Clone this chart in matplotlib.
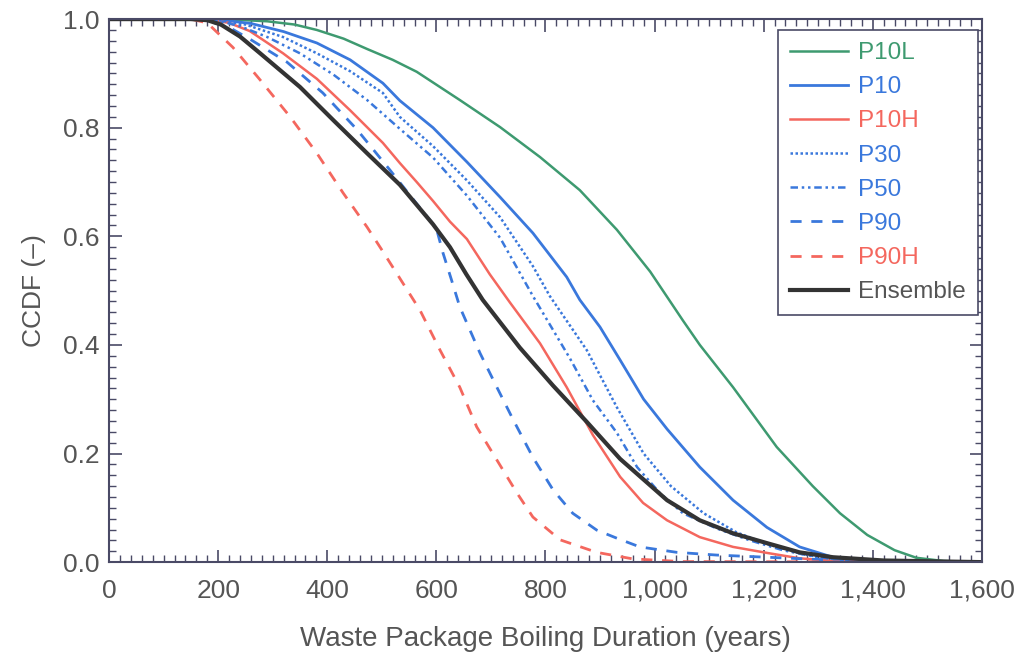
import matplotlib
matplotlib.use("Agg")
import matplotlib.pyplot as plt
from matplotlib.ticker import MultipleLocator, FuncFormatter

plt.rcParams['font.family'] = ['Liberation Sans', 'DejaVu Sans']

# --- data (years, CCDF) ---
p10l_x = [0, 180, 230, 290, 340, 381, 430, 473, 520, 564, 643, 717, 790, 863, 931, 992,
          1052, 1083, 1144, 1224, 1290, 1340, 1390, 1440, 1480, 1530, 1600]
p10l_y = [1, 1, 0.999, 0.996, 0.99, 0.98, 0.964, 0.945, 0.925, 0.903, 0.851, 0.801,
          0.746, 0.685, 0.612, 0.535, 0.445, 0.40, 0.322, 0.212, 0.14, 0.09, 0.05,
          0.022, 0.008, 0.002, 0]

p10_x = [0, 150, 200, 260, 320, 381, 442, 502, 533, 594, 656, 717, 777, 839, 863, 900,
         937, 980, 1023, 1083, 1144, 1206, 1266, 1327, 1400, 1600]
p10_y = [1, 1, 0.999, 0.992, 0.977, 0.956, 0.925, 0.882, 0.85, 0.80, 0.737, 0.672,
         0.606, 0.525, 0.483, 0.433, 0.372, 0.30, 0.245, 0.175, 0.114, 0.064, 0.028,
         0.009, 0.002, 0]

p10h_x = [0, 150, 190, 220, 258, 319, 381, 442, 502, 533, 564, 594, 625, 656, 698, 735,
          790, 839, 887, 937, 979, 1023, 1083, 1144, 1206, 1266, 1330, 1600]
p10h_y = [1, 1, 0.998, 0.993, 0.978, 0.937, 0.89, 0.832, 0.772, 0.735, 0.70, 0.665,
          0.627, 0.595, 0.53, 0.478, 0.403, 0.322, 0.234, 0.157, 0.109, 0.077, 0.046,
          0.028, 0.017, 0.007, 0.002, 0]

p30_x = [0, 150, 200, 250, 319, 381, 442, 502, 533, 594, 656, 717, 777, 808, 876, 931,
         980, 1030, 1090, 1150, 1210, 1270, 1330, 1400, 1600]
p30_y = [1, 1, 0.998, 0.99, 0.967, 0.937, 0.904, 0.864, 0.82, 0.766, 0.703, 0.635,
         0.545, 0.49, 0.39, 0.285, 0.2, 0.14, 0.09, 0.055, 0.032, 0.015, 0.005, 0.001, 0]

p50_x = [0, 150, 200, 240, 290, 350, 411, 473, 533, 594, 656, 717, 777, 845, 887, 931,
         968, 1010, 1052, 1114, 1175, 1235, 1298, 1360, 1600]
p50_y = [1, 1, 0.997, 0.987, 0.967, 0.937, 0.898, 0.851, 0.798, 0.745, 0.675, 0.597,
         0.49, 0.375, 0.298, 0.238, 0.175, 0.127, 0.09, 0.062, 0.04, 0.022, 0.009,
         0.003, 0]

p90_x = [0, 150, 180, 220, 260, 326, 392, 455, 515, 560, 600, 612, 628, 643, 680, 711,
         741, 777, 814, 850, 894, 931, 973, 1041, 1114, 1206, 1298, 1400, 1600]
p90_y = [1, 1, 0.997, 0.985, 0.962, 0.921, 0.864, 0.796, 0.722, 0.665, 0.615, 0.57,
         0.519, 0.47, 0.385, 0.322, 0.262, 0.193, 0.133, 0.09, 0.059, 0.044, 0.028,
         0.018, 0.013, 0.009, 0.005, 0.002, 0]

p90h_x = [0, 150, 180, 227, 277, 332, 381, 429, 473, 502, 570, 607, 643, 674, 711, 748,
          777, 827, 894, 960, 1050, 1600]
p90h_y = [1, 1, 0.993, 0.948, 0.888, 0.820, 0.753, 0.680, 0.617, 0.572, 0.464, 0.39,
          0.322, 0.249, 0.188, 0.127, 0.083, 0.041, 0.018, 0.006, 0.001, 0]

ens_x = [0, 150, 180, 205, 240, 277, 350, 411, 473, 533, 594, 625, 655, 685, 753, 814,
         876, 937, 1023, 1083, 1144, 1206, 1266, 1327, 1420, 1600]
ens_y = [1, 1, 0.998, 0.99, 0.968, 0.937, 0.875, 0.814, 0.753, 0.695, 0.622, 0.58,
         0.53, 0.483, 0.395, 0.325, 0.258, 0.19, 0.114, 0.077, 0.053, 0.035, 0.018,
         0.009, 0.003, 0.0]

green = '#3e9a70'
blue = '#3a78dc'
red = '#f4675e'
dark = '#333333'
frame = '#4a4a66'
textc = '#555555'

fig = plt.figure(figsize=(10.22, 6.59), dpi=100)
ax = fig.add_axes([0.1067, 0.147, 0.854, 0.824])

ax.plot(p10l_x, p10l_y, color=green, lw=1.8, label='P10L')
ax.plot(p10_x, p10_y, color=blue, lw=2.0, label='P10')
ax.plot(p10h_x, p10h_y, color=red, lw=1.8, label='P10H')
ax.plot(p30_x, p30_y, color=blue, lw=1.8, linestyle=(0, (1, 1)), label='P30')
ax.plot(p50_x, p50_y, color=blue, lw=1.8, linestyle=(0, (3, 1.5, 1, 1.5, 1, 1.5)), label='P50')
ax.plot(p90_x, p90_y, color=blue, lw=2.0, linestyle=(0, (4, 3.5)), label='P90')
ax.plot(p90h_x, p90h_y, color=red, lw=2.0, linestyle=(0, (4, 3.5)), label='P90H')
ax.plot(ens_x, ens_y, color=dark, lw=3.0, label='Ensemble')

ax.set_xlim(0, 1600)
ax.set_ylim(0, 1.0)

# ticks inside on all four sides
ax.xaxis.set_major_locator(MultipleLocator(200))
ax.xaxis.set_minor_locator(MultipleLocator(20))
ax.yaxis.set_major_locator(MultipleLocator(0.2))
ax.yaxis.set_minor_locator(MultipleLocator(0.02))
ax.xaxis.set_major_formatter(FuncFormatter(lambda v, p: '{:,.0f}'.format(v)))
ax.yaxis.set_major_formatter(FuncFormatter(lambda v, p: '{:.1f}'.format(v)))
ax.tick_params(which='both', direction='in', top=True, right=True, color=frame,
               labelcolor=textc, labelsize=19)
ax.tick_params(which='major', length=9, width=1.2)
ax.tick_params(which='minor', length=5, width=1.0)
ax.tick_params(axis='x', which='major', pad=12)
ax.tick_params(axis='y', which='major', pad=7)
for s in ax.spines.values():
    s.set_color(frame)
    s.set_linewidth(1.5)

ax.set_xlabel('Waste Package Boiling Duration (years)', fontsize=20, color=textc, labelpad=17)
ax.set_ylabel('CCDF (\u2013)', fontsize=19, color=textc, labelpad=12)

leg = ax.legend(loc='upper right', bbox_to_anchor=(0.9955, 0.98), fontsize=17.5,
                handlelength=2.4, handletextpad=0.4, labelspacing=0.5,
                fancybox=False, framealpha=1, edgecolor=frame, labelcolor='linecolor',
                borderpad=0.5, borderaxespad=0)
leg.get_frame().set_linewidth(1.2)
for t in leg.get_texts():
    if t.get_text() == 'Ensemble':
        t.set_color(textc)

fig.savefig('out.png', dpi=100)
